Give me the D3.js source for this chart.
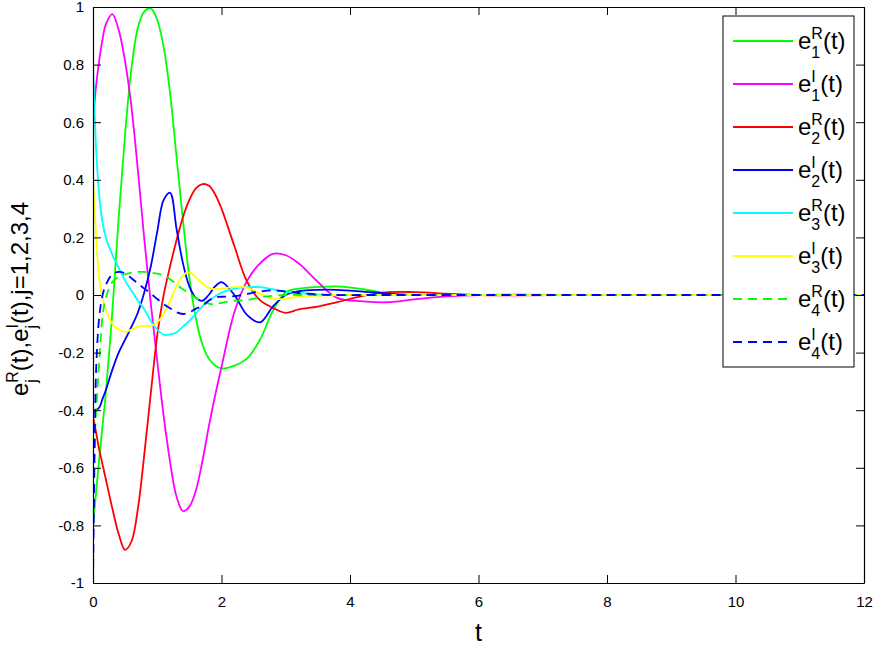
<!DOCTYPE html>
<html>
<head>
<meta charset="utf-8">
<script src="https://cdn.jsdelivr.net/npm/d3@7"></script>
<style>
  body { margin: 0; background: #fff; }
  svg { display: block; font-family: "Liberation Sans", Arial, Helvetica, sans-serif; }
</style>
</head>
<body>
<svg id="chart" width="874" height="646"></svg>
<script>
// time grid (t) shared by all series
const tGrid = [0, 0.025, 0.05, 0.1, 0.15, 0.2, 0.3, 0.4, 0.5, 0.6, 0.7, 0.8, 0.9, 1.0,
  1.1, 1.2, 1.3, 1.4, 1.5, 1.6, 1.7, 1.8, 1.9, 2.0, 2.2, 2.4, 2.6, 2.8, 3.0, 3.2,
  3.5, 3.8, 4.2, 4.6, 5.0, 5.5, 6, 8, 10, 12];

// values
const e1R = [-0.8, -0.74, -0.68, -0.56, -0.45, -0.34, -0.06, 0.27, 0.56, 0.79, 0.93, 0.985, 0.995, 0.955,
  0.86, 0.7, 0.48, 0.26, 0.06, -0.08, -0.17, -0.22, -0.245, -0.255, -0.245, -0.22, -0.155, -0.055, 0.01, 0.022,
  0.028, 0.03, 0.02, 0.005, 0, 0, 0, 0, 0, 0];
const e1I = [0.6, 0.67, 0.73, 0.82, 0.89, 0.94, 0.975, 0.92, 0.81, 0.65, 0.43, 0.19, -0.03, -0.23,
  -0.42, -0.58, -0.7, -0.75, -0.735, -0.68, -0.58, -0.46, -0.35, -0.25, -0.06, 0.05, 0.11, 0.143, 0.138, 0.11,
  0.045, -0.01, -0.022, -0.025, -0.015, -0.005, 0, 0, 0, 0];
const e2R = [-0.42, -0.45, -0.48, -0.54, -0.59, -0.64, -0.74, -0.83, -0.885, -0.855, -0.74, -0.55, -0.34, -0.14,
  0.0, 0.1, 0.19, 0.27, 0.33, 0.37, 0.385, 0.38, 0.35, 0.3, 0.17, 0.045, -0.018, -0.045, -0.062, -0.05,
  -0.04, -0.025, -0.003, 0.01, 0.01, 0.005, 0, 0, 0, 0];
const e2I = [-0.405, -0.403, -0.4, -0.39, -0.36, -0.33, -0.26, -0.2, -0.155, -0.11, -0.06, 0.01, 0.1, 0.22,
  0.33, 0.355, 0.23, 0.11, 0.03, -0.01, -0.02, 0.0, 0.03, 0.045, 0.0, -0.07, -0.095, -0.04, 0.0, 0.013,
  0.018, 0.018, 0.012, 0.005, 0, 0, 0, 0, 0, 0];
const e3R = [0.8, 0.64, 0.5, 0.34, 0.25, 0.2, 0.14, 0.095, 0.05, 0.015, -0.02, -0.05, -0.09, -0.12,
  -0.138, -0.137, -0.13, -0.11, -0.09, -0.065, -0.04, -0.02, -0.005, 0.008, 0.022, 0.027, 0.027, 0.02, 0.012, 0.007,
  0.002, 0, 0, 0, 0, 0, 0, 0, 0, 0];
const e3I = [0.4, 0.3, 0.2, 0.05, -0.01, -0.05, -0.1, -0.12, -0.128, -0.12, -0.11, -0.107, -0.107, -0.095,
  -0.065, -0.02, 0.03, 0.068, 0.079, 0.062, 0.04, 0.025, 0.02, 0.022, 0.027, 0.026, 0.004, -0.014, -0.012, -0.006,
  -0.002, 0, 0, 0, 0, 0, 0, 0, 0, 0];
const e4R = [-0.58, -0.5, -0.4, -0.22, -0.07, -0.01, 0.045, 0.063, 0.072, 0.078, 0.08, 0.08, 0.078, 0.074,
  0.068, 0.055, 0.037, 0.02, 0.006, -0.01, -0.022, -0.03, -0.032, -0.027, -0.02, -0.017, -0.008, -0.003, 0, 0,
  0, 0, 0, 0, 0, 0, 0, 0, 0, 0];
const e4I = [-1, -0.55, -0.25, -0.07, 0.0, 0.035, 0.072, 0.08, 0.075, 0.058, 0.04, 0.022, 0.005, -0.014,
  -0.032, -0.046, -0.06, -0.066, -0.06, -0.048, -0.038, -0.02, -0.008, -0.006, -0.004, 0.004, 0.012, 0.016, 0.012, 0.007,
  0.002, 0, 0, 0, 0, 0, 0, 0, 0, 0];

const seriesData = [e1R, e1I, e2R, e2I, e3R, e3I, e4R, e4I];
const supLabels = ['R', 'I', 'R', 'I', 'R', 'I', 'R', 'I'];
const subLabels = ['1', '1', '2', '2', '3', '3', '4', '4'];

const xTicks = [0, 2, 4, 6, 8, 10, 12];
const yTicks = [-1, -0.8, -0.6, -0.4, -0.2, 0, 0.2, 0.4, 0.6, 0.8, 1];

// styles
const colors = ['#00ff00', '#ff00ff', '#ff0000', '#0000ff', '#00ffff', '#ffff00', '#00ff00', '#0000ff'];
const dashed = [false, false, false, false, false, false, true, true];

const pLeft = 93, pTop = 7, pRight = 864, pBottom = 583;

const svg = d3.select('#chart');

const x = d3.scaleLinear().domain([0, 12]).range([pLeft, pRight]);
const y = d3.scaleLinear().domain([-1, 1]).range([pBottom, pTop]);

svg.append('defs').append('clipPath').attr('id', 'clip')
  .append('rect').attr('x', pLeft).attr('y', pTop).attr('width', pRight - pLeft).attr('height', pBottom - pTop);

// curves
const line = d3.line()
  .x((d, i) => x(tGrid[i]))
  .y(d => y(d))
  .curve(d3.curveCatmullRom.alpha(0.5));

const plot = svg.append('g').attr('clip-path', 'url(#clip)');
seriesData.forEach((vals, k) => {
  plot.append('path')
    .attr('d', line(vals))
    .attr('fill', 'none')
    .attr('stroke', colors[k])
    .attr('stroke-width', 1.8)
    .attr('stroke-dasharray', dashed[k] ? '9,6' : null);
});

// axes with inward ticks on all sides
const fmt = d => String(+d.toFixed(1));
const styleAxis = g => {
  g.select('.domain').attr('stroke', '#000').attr('stroke-width', 1.2);
  g.selectAll('.tick line').attr('stroke', '#000').attr('stroke-width', 1);
  g.selectAll('.tick text').attr('fill', '#000').style('font-size', '15px')
    .style('font-family', '"Liberation Sans", Arial, sans-serif');
};

svg.append('g').attr('transform', `translate(0,${pBottom})`)
  .call(d3.axisBottom(x).tickValues(xTicks).tickFormat(fmt).tickSizeInner(-8).tickSizeOuter(0).tickPadding(13))
  .call(styleAxis);
svg.append('g').attr('transform', `translate(0,${pTop})`)
  .call(d3.axisTop(x).tickValues(xTicks).tickFormat('').tickSizeInner(-8).tickSizeOuter(0))
  .call(styleAxis);
svg.append('g').attr('transform', `translate(${pLeft},0)`)
  .call(d3.axisLeft(y).tickValues(yTicks).tickFormat(fmt).tickSizeInner(-8).tickSizeOuter(0).tickPadding(9))
  .call(styleAxis);
svg.append('g').attr('transform', `translate(${pRight},0)`)
  .call(d3.axisRight(y).tickValues(yTicks).tickFormat('').tickSizeInner(-8).tickSizeOuter(0))
  .call(styleAxis);

// text with stacked super/subscripts: parts = [{t}, {sup, sub}, ...]
function richText(g, parts, size) {
  const small = Math.round(size * 0.68);
  let cx = 0;
  parts.forEach(p => {
    if (p.t !== undefined) {
      const el = g.append('text').attr('x', cx).attr('y', 0)
        .style('font-size', size + 'px').text(p.t);
      cx += el.node().getComputedTextLength();
    } else {
      const a = g.append('text').attr('x', cx).attr('y', -size * 0.42)
        .style('font-size', small + 'px').text(p.sup);
      const b = g.append('text').attr('x', cx).attr('y', size * 0.38)
        .style('font-size', small + 'px').text(p.sub);
      cx += Math.max(a.node().getComputedTextLength(), b.node().getComputedTextLength());
    }
  });
  return cx;
}

// axis titles
svg.append('text')
  .attr('x', (pLeft + pRight) / 2).attr('y', 641)
  .attr('text-anchor', 'middle')
  .style('font-size', '25px')
  .text('t');

const yl = svg.append('g');
const ylInner = yl.append('g');
const ylW = richText(ylInner, [
  {t: 'e'}, {sup: 'R', sub: 'j'}, {t: '(t),e'}, {sup: 'I', sub: 'j'}, {t: '(t),j=1,2,3,4'}
], 24);
yl.attr('transform', `translate(28,${(pTop + pBottom) / 2 + 4}) rotate(-90)`);
ylInner.attr('transform', `translate(${-ylW / 2},0)`);

// legend
const lg = svg.append('g');
lg.append('rect')
  .attr('x', 723).attr('y', 16).attr('width', 131).attr('height', 351)
  .attr('fill', '#fff').attr('stroke', '#000').attr('stroke-width', 1);

seriesData.forEach((vals, k) => {
  const ry = 41 + k * 43;
  lg.append('line')
    .attr('x1', 733).attr('x2', 793).attr('y1', ry).attr('y2', ry)
    .attr('stroke', colors[k]).attr('stroke-width', 1.8)
    .attr('stroke-dasharray', dashed[k] ? '9,6' : null);
  const tg = lg.append('g').attr('transform', `translate(798,${ry + 8})`);
  richText(tg, [{t: 'e'}, {sup: supLabels[k], sub: subLabels[k]}, {t: '(t)'}], 24);
});
</script>
</body>
</html>
